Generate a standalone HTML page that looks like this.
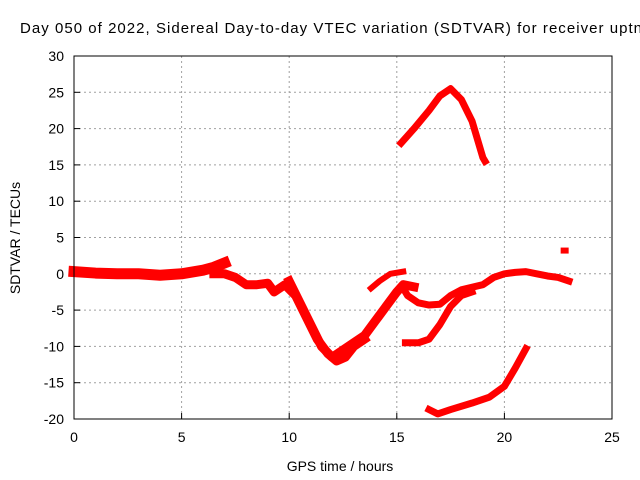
<!DOCTYPE html>
<html><head><meta charset="utf-8"><style>
body{margin:0;background:#fff}
svg{font-family:"Liberation Sans",sans-serif;display:block}
</style></head><body>
<svg id="chart" width="640" height="480">
<text x="20" y="33" font-size="15" textLength="622" lengthAdjust="spacing">Day 050 of 2022, Sidereal Day-to-day VTEC variation (SDTVAR) for receiver uptn</text>
<g id="grid"></g><g id="ticks"></g><g id="series"></g>
<rect x="74" y="56" width="538" height="363" fill="none" stroke="#000" stroke-width="1"/>
<text x="340" y="471" font-size="14" text-anchor="middle">GPS time / hours</text>
<text transform="translate(20,238) rotate(-90)" font-size="14" text-anchor="middle">SDTVAR / TECUs</text>
</svg>
<script>
const xTicks=[0,5,10,15,20,25];
const yTicks=[-20,-15,-10,-5,0,5,10,15,20,25,30];
const segAx=[0,1,2,3,4,5,6,6.5,7];
const segAy=[0.3,0.1,0,0,-0.2,0,0.5,0.9,1.5];
const segBx=[6.5,7,7.5,8,8.5,9,9.3,9.8,10.3,10.8,11.3,11.8,12.2,12.6,13,13.5];
const segBy=[0,0,-0.5,-1.5,-1.5,-1.3,-2.5,-1.5,-3,-6,-9,-11,-12,-11.5,-10,-9];
const segCx=[10,10.5,11,11.5,12,12.5,13,13.5,14,14.5,15,15.3,15.8];
const segCy=[-1,-4,-7,-10,-11.5,-10.5,-9.5,-8.5,-6.5,-4.5,-2.5,-1.5,-1.8];
const segDx=[15.3,15.5,16,16.5,17,17.5,18,19,19.5,20,20.5,21,21.5,22,22.5,23];
const segDy=[-2,-3,-4,-4.3,-4.2,-3,-2.2,-1.5,-0.5,0,0.2,0.3,0,-0.3,-0.5,-1];
const segEx=[13.8,14.2,14.7,15.3];
const segEy=[-2,-1,0,0.3];
const segFx=[15.4,16,16.5,17,17.5,18,18.5];
const segFy=[-9.5,-9.5,-9,-7,-4.5,-3,-2.5];
const segGx=[16.5,16.9,17.5,18.5,19.3,20,20.5,21];
const segGy=[-18.7,-19.3,-18.7,-17.8,-17,-15.5,-13,-10.3];
const segHx=[15.2,15.8,16.5,17,17.5,18,18.5,19,19.1];
const segHy=[18,20,22.5,24.5,25.5,24,21,16,15.5];
const ptX=[22.8];const ptY=[3.2];
const X=v=>74+v*538/25, Y=v=>419-(v+20)*363/50;
const NS="http://www.w3.org/2000/svg";
function mk(t,a,p){const e=document.createElementNS(NS,t);for(const k in a)e.setAttribute(k,a[k]);p.appendChild(e);return e;}
const G=document.getElementById('grid'),T=document.getElementById('ticks'),S=document.getElementById('series');
xTicks.forEach(v=>{
 if(v>0&&v<25){const l=mk('line',{x1:X(v),x2:X(v),y1:56,y2:419,stroke:'#a0a0a0','stroke-dasharray':'2,3'},G);
 }
 mk('line',{x1:X(v),x2:X(v),y1:419,y2:413,stroke:'#000'},T);
 const t=mk('text',{x:X(v),y:442,'font-size':14,'text-anchor':'middle'},T);t.textContent=v;
 
});
yTicks.forEach(v=>{
 if(v>-20&&v<30){const l=mk('line',{x1:74,x2:612,y1:Y(v),y2:Y(v),stroke:'#a0a0a0','stroke-dasharray':'2,3'},G);
 }
 mk('line',{x1:74,x2:80,y1:Y(v),y2:Y(v),stroke:'#000'},T);
 const t=mk('text',{x:64,y:Y(v)+5,'font-size':14,'text-anchor':'end'},T);t.textContent=v;
 
});
function seg(xs,ys,w,name){
 const p=mk('polyline',{points:xs.map((x,i)=>X(x)+','+Y(ys[i])).join(' '),fill:'none',stroke:'#f00','stroke-width':w,'stroke-linejoin':'round','stroke-linecap':'square'},S);
 
}
seg(segAx,segAy,11,'series-segment-a');
seg(segBx,segBy,9,'series-segment-b');
seg(segCx,segCy,9,'series-segment-c');
seg(segDx,segDy,7,'series-segment-d');
seg(segEx,segEy,6,'series-segment-e');
seg(segFx,segFy,7,'series-segment-f');
seg(segGx,segGy,7,'series-segment-g');
seg(segHx,segHy,7,'series-segment-h');
ptX.forEach((x,i)=>{const r=mk('rect',{x:X(x)-4,y:Y(ptY[i])-3,width:8,height:6,fill:'#f00'},S);
 });
</script>
</body></html>
